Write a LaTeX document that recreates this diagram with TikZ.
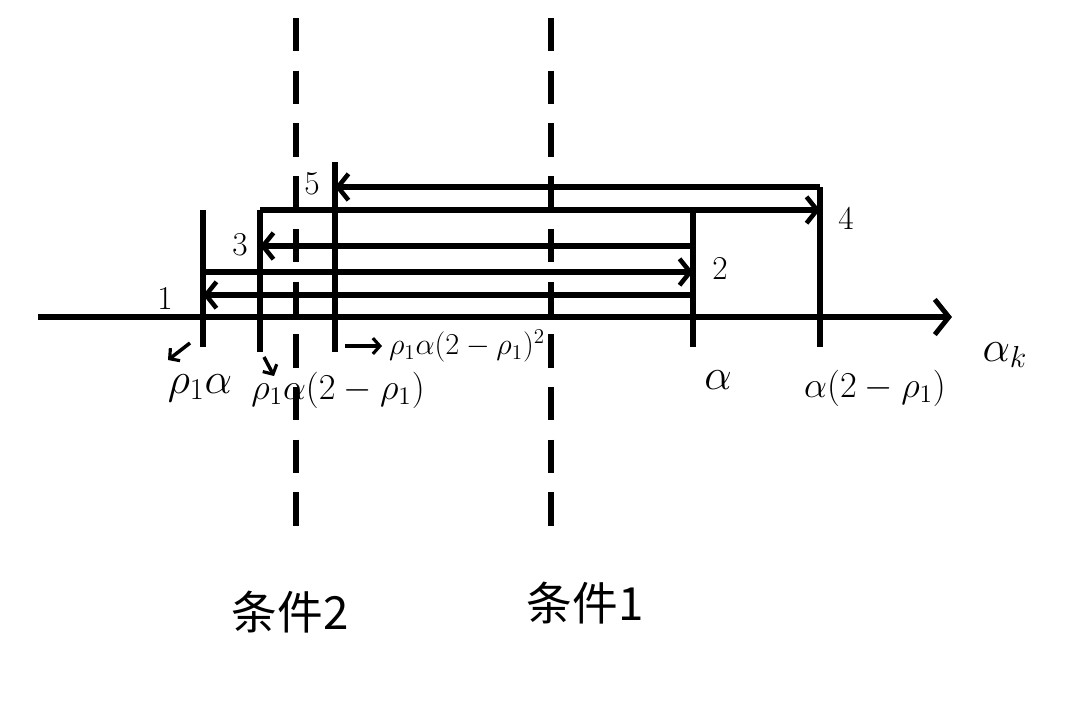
\documentclass[tikz,border=0pt]{standalone}
\usepackage{fontspec}
\newfontfamily\cjk{Noto Sans CJK SC}
\usetikzlibrary{arrows.meta}

\tikzset{
  tickline/.style={line width=3.4pt},
  flow/.style={line width=3.4pt,-{Straight Barb[length=6pt,width=15pt,line width=2.6pt]}},
  hint/.style={line width=2pt,-{Straight Barb[length=4pt,width=9pt,line width=1.8pt]}},
  cond/.style={line width=3.4pt,dash pattern=on 19pt off 11pt},
  num/.style={font=\fontsize{19}{22}\selectfont},
  val/.style={font=\fontsize{22}{26}\selectfont},
}

\begin{document}
\begin{tikzpicture}[x=0.02cm,y=-0.02cm]
\useasboundingbox (0,0) rectangle (1086,725);

% condition lines
\coordinate (c2top) at (296,18);
\coordinate (c2bot) at (296,545);
\coordinate (c1top) at (551,18);
\coordinate (c1bot) at (551,545);
\draw [cond] (c2top) -- (c2bot);
\draw [cond] (c1top) -- (c1bot);

% axis
\coordinate (ax0) at (38,317);
\coordinate (ax1) at (952,317);
\draw [line width=3.4pt,-{Straight Barb[length=8pt,width=20pt,line width=2.8pt]}] (ax0) -- (ax1);
\node (ak) at (1005,355) [font=\fontsize{27}{30}\selectfont] {$\alpha_k$};

% ticks
\coordinate (pa) at (203,347);
\coordinate (paT) at (203,210);
\coordinate (pb) at (260,352);
\coordinate (pbT) at (260,210);
\coordinate (pc) at (335,352);
\coordinate (pcT) at (335,162);
\coordinate (pd) at (693,347);
\coordinate (pdT) at (693,208);
\coordinate (pe) at (820,347);
\coordinate (peT) at (820,187);
\foreach \p in {pa,pb,pc,pd,pe}
  \draw [tickline] (\p) -- (\p T);

% iterations
\coordinate (s1) at (693,295); \coordinate (e1) at (203,295);
\coordinate (s2) at (203,272); \coordinate (e2) at (693,272);
\coordinate (s3) at (693,246); \coordinate (e3) at (260,246);
\coordinate (e4) at (820,210);
\coordinate (e5) at (335,187);
\draw [flow] (s1) -- (e1);
\draw [flow] (s2) -- (e2);
\draw [flow] (s3) -- (e3);
\draw [flow] (pbT) -- (e4);
\draw [flow] (peT) -- (e5);
\node (n1) at (165,298) [num] {1};
\node (n2) at (720,268) [num] {2};
\node (n3) at (240,245) [num] {3};
\node (n4) at (846,218) [num] {4};
\node (n5) at (312,184) [num] {5};

% values
\node (va) at (200,388) [font=\fontsize{25}{28}\selectfont] {$\rho_1\alpha$};
\node (vb) at (338,390) [val] {$\rho_1\alpha(2-\rho_1)$};
\node (vc) at (467,346) [font=\fontsize{18}{22}\selectfont] {$\rho_1\alpha(2-\rho_1)^2$};
\node (vd) at (718,380) [font=\fontsize{26}{28}\selectfont] {$\alpha$};
\node (ve) at (875,388) [val] {$\alpha(2-\rho_1)$};
\coordinate (ha0) at (190,343); \coordinate (ha1) at (168,360);
\coordinate (hb0) at (264,357); \coordinate (hb1) at (274,376);
\coordinate (hc0) at (345,346); \coordinate (hc1) at (382,346);
\draw [hint] (ha0) -- (ha1);
\draw [hint] (hb0) -- (hb1);
\draw [hint] (hc0) -- (hc1);

% conditions
\node (k2) at (290,612) [font=\cjk\fontsize{26}{30}\selectfont] {条件2};
\node (k1) at (585,603) [font=\cjk\fontsize{26}{30}\selectfont] {条件1};
\end{tikzpicture}
\end{document}
